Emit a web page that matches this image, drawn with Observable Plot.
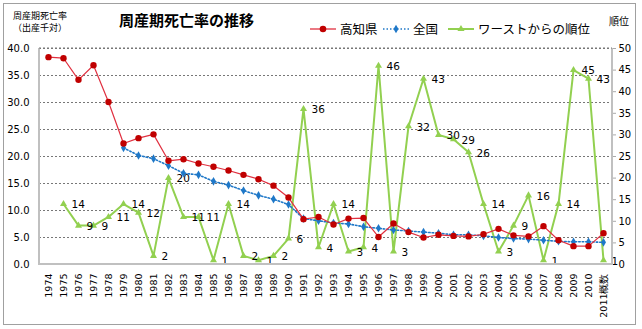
<!DOCTYPE html>
<html><head><meta charset="utf-8">
<script src="https://cdn.jsdelivr.net/npm/d3@7"></script>
<script src="https://cdn.jsdelivr.net/npm/@observablehq/plot@0.6"></script>
<style>
body{margin:0;background:#fff;}
#wrap{position:relative;width:642px;height:329px;font-family:"Noto Sans CJK JP",sans-serif;}
#border{position:absolute;left:3px;top:3px;width:633px;height:322px;border:1px solid #a0a0a0;box-sizing:border-box;}
.t{position:absolute;white-space:nowrap;color:#000;line-height:1;}
</style></head><body>
<div id="wrap"><div id="chart"></div><div id="border"></div></div>
<script>
const years = ["1974","1975","1976","1977","1978","1979","1980","1981","1982","1983","1984","1985","1986","1987","1988","1989","1990","1991","1992","1993","1994","1995","1996","1997","1998","1999","2000","2001","2002","2003","2004","2005","2006","2007","2008","2009","2010","2011概数"];
const kochi = [38.4,38.2,34.2,36.9,30.1,22.4,23.4,24.1,19.2,19.5,18.7,18.1,17.4,16.6,15.8,14.6,12.4,8.4,8.8,7.4,8.5,8.6,5.1,7.6,6.0,5.0,5.5,5.3,5.2,5.6,6.6,5.4,5.2,7.1,4.5,3.4,3.4,5.8];
const zenkoku = [null,null,null,null,null,21.6,20.2,19.6,18.3,16.9,16.6,15.4,14.7,13.7,12.8,12.1,11.1,8.5,8.1,7.7,7.5,7.0,6.7,6.4,6.2,6.0,5.8,5.5,5.5,5.3,5.0,4.8,4.7,4.5,4.3,4.2,4.2,4.1];
const rank = [null,14,9,9,11,14,12,2,20,11,11,1,14,2,1,2,6,36,4,14,3,4,46,3,32,43,30,29,26,14,3,9,16,1,14,45,43,1];
const leftTicks = [0,5,10,15,20,25,30,35,40];
const rightTicks = [0,5,10,15,20,25,30,35,40,45,50];
const legendItems = ["高知県","全国","ワーストからの順位"];

const k = 40/50; // rank -> left scale
const rows = years.map((y,i)=>({year:y, kochi:kochi[i], zenkoku:zenkoku[i], rank:rank[i], rankY: rank[i]==null?null:rank[i]*k}));
const zRows = rows.filter(d=>d.zenkoku!=null);
const rRows = rows.filter(d=>d.rank!=null);

const RED="#c00000", REDL="#e03040", BLUE="#1f78c8", GREEN="#92d050";

const plot = Plot.plot({
  width:642, height:329,
  marginLeft:39, marginRight:30, marginTop:48, marginBottom:65,
  style:{fontFamily:"DejaVu Sans, sans-serif", fontSize:"9.5px", background:"transparent"},
  x:{type:"point", domain:years, padding:0.5, label:null},
  y:{domain:[0,40], label:null},
  marks:[
    Plot.gridY(leftTicks.filter(d=>d>0), {stroke:"#777", strokeOpacity:1, strokeDasharray:"2,2"}),
    Plot.axisY(leftTicks, {anchor:"left", label:null, tickSize:0, tickPadding:10, tickFormat:d=>d.toFixed(1), fontSize:10}),
    Plot.axisY(rightTicks.map(d=>d*k), {anchor:"right", label:null, tickSize:3, tickPadding:3, stroke:"#aaa", tickFormat:d=>String(Math.round(d/k)), fontSize:10}),
    Plot.axisX(years, {anchor:"bottom", label:null, tickSize:0, tickPadding:9, tickRotate:-90, fontSize:9.5}),
    Plot.line(rRows, {x:"year", y:"rankY", stroke:GREEN, strokeWidth:2}),
    Plot.dot(rRows, {x:"year", y:"rankY", symbol:"triangle", r:2.6, fill:GREEN}),
    Plot.text(rRows, {x:"year", y:"rankY", text:"rank", textAnchor:"start", dx:8, dy:1, fontSize:10.5, fill:"#000"}),
    Plot.line(zRows, {x:"year", y:"zenkoku", stroke:BLUE, strokeWidth:1.6, strokeDasharray:"1.5,2"}),
    Plot.dot(zRows, {x:"year", y:"zenkoku", symbol:"diamond", r:2.6, fill:BLUE}),
    Plot.line(rows, {x:"year", y:"kochi", stroke:REDL, strokeWidth:1.2}),
    Plot.dot(rows, {x:"year", y:"kochi", r:3.2, fill:RED})
  ]
});
document.getElementById("chart").appendChild(plot);

// axis frame lines
const svg = d3.select(plot);
const L=39, R=612, T=48, B=264;
svg.append("line").attr("x1",L).attr("x2",L).attr("y1",T).attr("y2",B).attr("stroke","#c0c0c0").attr("stroke-width",2);
svg.append("line").attr("x1",R).attr("x2",R).attr("y1",T).attr("y2",B).attr("stroke","#c0c0c0").attr("stroke-width",2);
svg.append("line").attr("x1",L-1).attr("x2",R+1).attr("y1",B).attr("y2",B).attr("stroke","#c0c0c0").attr("stroke-width",2);
svg.append("line").attr("x1",L).attr("x2",R).attr("y1",T).attr("y2",T).attr("stroke","#777").attr("stroke-dasharray","2,2");

// overlay texts
const wrap = document.getElementById("wrap");
function addText(txt, x, y, css){ const d=document.createElement("div"); d.className="t"; d.textContent=txt; d.style.left=x+"px"; d.style.top=y+"px"; Object.assign(d.style, css||{}); wrap.appendChild(d); return d;}
addText("周産期死亡率", 13, 11, {fontSize:"9px"});
addText("（出産千対）", 13, 23, {fontSize:"9px"});
addText("周産期死亡率の推移", 119, 12, {fontSize:"15px", fontWeight:"bold"});
addText("順位", 609, 16, {fontSize:"10px"});

// legend
const lg = d3.select(wrap).append("svg").attr("width",642).attr("height",40).style("position","absolute").style("left","0px").style("top","0px");
const legendDefs = [
  {x:310, color:REDL, dash:null, sym:"circle", fill:RED},
  {x:383, color:BLUE, dash:"1.5,2", sym:"diamond", fill:BLUE},
  {x:448, color:GREEN, dash:null, sym:"triangle", fill:GREEN}
];
legendDefs.forEach((d,i)=>{
  const y=29;
  lg.append("line").attr("x1",d.x).attr("x2",d.x+26).attr("y1",y).attr("y2",y).attr("stroke",d.color).attr("stroke-width",d.dash?1.6:(i==2?2:1.3)).attr("stroke-dasharray",d.dash);
  const sym = d.sym=="circle"?d3.symbolCircle:d.sym=="diamond"?d3.symbolDiamond:d3.symbolTriangle;
  lg.append("path").attr("d",d3.symbol(sym, d.sym=="circle"?34:22)()).attr("transform",`translate(${d.x+13},${y})`).attr("fill",d.fill);
  lg.append("text").attr("x",d.x+30).attr("y",y+4.5).attr("font-size","12.5px").attr("font-family","Noto Sans CJK JP, sans-serif").text(legendItems[i]);
});
</script>
</body></html>
